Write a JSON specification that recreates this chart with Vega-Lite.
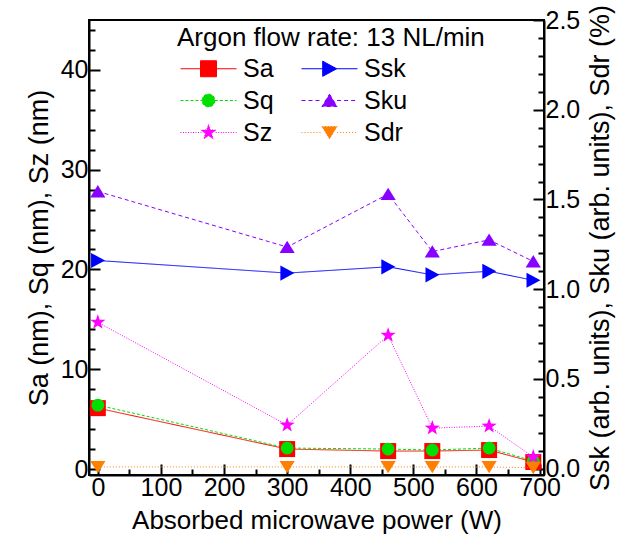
{
  "$schema": "https://vega.github.io/schema/vega-lite/v6.json",
  "width": 455,
  "height": 455,
  "autosize": "none",
  "padding": {"left": 89, "top": 20, "right": 83, "bottom": 67},
  "background": "white",
  "data": {
    "values": [
      {"power": 0, "series": "Sa", "side": "L", "value": 6.1},
      {"power": 300, "series": "Sa", "side": "L", "value": 2.0},
      {"power": 460, "series": "Sa", "side": "L", "value": 1.8},
      {"power": 530, "series": "Sa", "side": "L", "value": 1.8},
      {"power": 620, "series": "Sa", "side": "L", "value": 1.9},
      {"power": 690, "series": "Sa", "side": "L", "value": 0.7},
      {"power": 0, "series": "Sq", "side": "L", "value": 6.4},
      {"power": 300, "series": "Sq", "side": "L", "value": 2.1},
      {"power": 460, "series": "Sq", "side": "L", "value": 2.0},
      {"power": 530, "series": "Sq", "side": "L", "value": 1.9},
      {"power": 620, "series": "Sq", "side": "L", "value": 2.1},
      {"power": 690, "series": "Sq", "side": "L", "value": 0.8},
      {"power": 0, "series": "Sz", "side": "L", "value": 14.7},
      {"power": 300, "series": "Sz", "side": "L", "value": 4.4},
      {"power": 460, "series": "Sz", "side": "L", "value": 13.4},
      {"power": 530, "series": "Sz", "side": "L", "value": 4.1},
      {"power": 620, "series": "Sz", "side": "L", "value": 4.3},
      {"power": 690, "series": "Sz", "side": "L", "value": 1.2},
      {"power": 0, "series": "Ssk", "side": "R", "value": 1.16},
      {"power": 300, "series": "Ssk", "side": "R", "value": 1.09},
      {"power": 460, "series": "Ssk", "side": "R", "value": 1.125},
      {"power": 530, "series": "Ssk", "side": "R", "value": 1.08},
      {"power": 620, "series": "Ssk", "side": "R", "value": 1.1},
      {"power": 690, "series": "Ssk", "side": "R", "value": 1.05},
      {"power": 0, "series": "Sku", "side": "R", "value": 1.545},
      {"power": 300, "series": "Sku", "side": "R", "value": 1.235},
      {"power": 460, "series": "Sku", "side": "R", "value": 1.53},
      {"power": 530, "series": "Sku", "side": "R", "value": 1.21},
      {"power": 620, "series": "Sku", "side": "R", "value": 1.275},
      {"power": 690, "series": "Sku", "side": "R", "value": 1.155},
      {"power": 0, "series": "Sdr", "side": "R", "value": 0.01},
      {"power": 300, "series": "Sdr", "side": "R", "value": 0.01},
      {"power": 460, "series": "Sdr", "side": "R", "value": 0.01},
      {"power": 530, "series": "Sdr", "side": "R", "value": 0.01},
      {"power": 620, "series": "Sdr", "side": "R", "value": 0.01},
      {"power": 690, "series": "Sdr", "side": "R", "value": 0.005}
    ]
  },
  "encoding": {
    "x": {
      "field": "power", "type": "quantitative",
      "scale": {"domain": [-14, 707], "nice": false, "zero": false},
      "axis": {
        "title": "Absorbed microwave power (W)",
        "titleFontSize": 26,
        "values": [0, 50, 100, 150, 200, 250, 300, 350, 400, 450, 500, 550, 600, 650, 700],
        "labelExpr": "datum.value % 100 === 0 ? datum.label : ''",
        "tickSize": {"condition": {"test": "datum.value % 100 === 0", "value": -11}, "value": -6},
        "labelPadding": 11,
        "titlePadding": 7
      }
    },
    "color": {
      "field": "series", "type": "nominal",
      "scale": {
        "domain": ["Sa", "Sq", "Sz", "Ssk", "Sku", "Sdr"],
        "range": ["#FF0000", "#00E000", "#FF00FF", "#0000FF", "#8800FF", "#FF7F00"]
      },
      "legend": {
        "orient": "none",
        "legendX": 88,
        "legendY": 5,
        "columns": 2,
        "direction": "vertical",
        "title": "Argon flow rate: 13 NL/min",
        "titleLimit": 500,
        "titleFont": "Liberation Sans",
        "titleFontSize": 26,
        "titleFontWeight": "normal",
        "titleColor": "black",
        "titlePadding": 5,
        "labelFont": "Liberation Sans",
        "labelFontSize": 25,
        "labelColor": "black",
        "labelLimit": 200,
        "symbolSize": 256,
        "symbolStrokeWidth": 1,
        "symbolOffset": 19,
        "labelOffset": 22,
        "rowPadding": 6,
        "columnPadding": 24,
        "padding": 0,
        "encode": {
          "symbols": {
            "update": {
              "shape": {"signal": "datum.value === 'Sa' ? 'M-3.5,0H-1M1,0H3.5M-1,-1H1V1H-1Z' : datum.value === 'Sq' ? 'M-3.5,0H-0.8M0.8,0H3.5M0.8,0A0.8,0.8,0,1,1,-0.8,0A0.8,0.8,0,1,1,0.8,0Z' : datum.value === 'Sz' ? 'M-3.5,0H-0.9M0.9,0H3.5M0,-1L0.235,-0.324L0.951,-0.309L0.38,0.124L0.588,0.809L0,0.4L-0.588,0.809L-0.38,0.124L-0.951,-0.309L-0.235,-0.324Z' : datum.value === 'Ssk' ? 'M-3.5,0H-0.85M0.85,0H3.5M-0.85,-0.95L0.9,0L-0.85,0.95Z' : datum.value === 'Sku' ? 'M-3.5,0H-0.95M0.95,0H3.5M0,-0.8L0.95,0.75L-0.95,0.75Z' : 'M-3.5,0H-0.95M0.95,0H3.5M-0.95,-0.75L0.95,-0.75L0,0.8Z'"},
              "strokeDash": {"signal": "datum.value === 'Sq' ? [3, 2] : datum.value === 'Sku' ? [4, 3] : datum.value === 'Sz' ? [1, 1.5] : datum.value === 'Sdr' ? [1, 2] : []"},
              "fill": {"scale": "color", "field": "value"},
              "stroke": {"scale": "color", "field": "value"},
              "strokeWidth": {"value": 1},
              "opacity": {"value": 1}
            }
          }
        }
      }
    }
  },
  "layer": [
    {
      "transform": [{"filter": "datum.side === 'L'"}],
      "encoding": {
        "y": {
          "field": "value", "type": "quantitative",
          "scale": {"domain": [-0.6, 45], "nice": false, "zero": false},
          "axis": {
            "title": "Sa (nm), Sq (nm), Sz (nm)",
            "values": [0, 2, 4, 6, 8, 10, 12, 14, 16, 18, 20, 22, 24, 26, 28, 30, 32, 34, 36, 38, 40, 42, 44],
            "labelExpr": "datum.value % 10 === 0 ? datum.label : ''",
            "tickSize": {"condition": {"test": "datum.value % 10 === 0", "value": -11}, "value": -6},
            "labelPadding": 12,
            "titlePadding": 7
          }
        }
      },
      "layer": [
        {
          "mark": {"type": "line", "strokeWidth": 1},
          "encoding": {
            "strokeDash": {
              "field": "series", "type": "nominal",
              "scale": {"domain": ["Sa", "Sq", "Sz"], "range": [[1, 0], [3, 2], [1, 1.5]]},
              "legend": null
            }
          }
        },
        {
          "mark": {"type": "point", "filled": true, "size": 256, "opacity": 1, "strokeWidth": 0.5},
          "encoding": {
            "shape": {
              "field": "series", "type": "nominal",
              "scale": {
                "domain": ["Sa", "Sq", "Sz"],
                "range": ["M-1,-1H1V1H-1Z", "M0.8,0A0.8,0.8,0,1,1,-0.8,0A0.8,0.8,0,1,1,0.8,0Z", "M0,-1L0.235,-0.324L0.951,-0.309L0.38,0.124L0.588,0.809L0,0.4L-0.588,0.809L-0.38,0.124L-0.951,-0.309L-0.235,-0.324Z"]
              },
              "legend": null
            }
          }
        }
      ]
    },
    {
      "transform": [{"filter": "datum.side === 'R'"}],
      "encoding": {
        "y": {
          "field": "value", "type": "quantitative",
          "scale": {"domain": [-0.035, 2.5], "nice": false, "zero": false},
          "axis": {
            "orient": "right",
            "title": "Ssk (arb. units), Sku (arb. units), Sdr (%)",
            "titleAngle": 270,
            "titleBaseline": "top",
            "values": [0, 0.1, 0.2, 0.3, 0.4, 0.5, 0.6, 0.7, 0.8, 0.9, 1.0, 1.1, 1.2, 1.3, 1.4, 1.5, 1.6, 1.7, 1.8, 1.9, 2.0, 2.1, 2.2, 2.3, 2.4, 2.5],
            "labelExpr": "abs(datum.value * 2 - round(datum.value * 2)) < 0.001 ? format(datum.value, '.1f') : ''",
            "tickSize": {"condition": {"test": "abs(datum.value * 2 - round(datum.value * 2)) < 0.001", "value": -11}, "value": -6},
            "labelPadding": 12,
            "titlePadding": 8
          }
        }
      },
      "layer": [
        {
          "mark": {"type": "line", "strokeWidth": 1},
          "encoding": {
            "strokeDash": {
              "field": "series", "type": "nominal",
              "scale": {"domain": ["Ssk", "Sku", "Sdr"], "range": [[1, 0], [4, 3], [1, 2]]},
              "legend": null
            }
          }
        },
        {
          "mark": {"type": "point", "filled": true, "size": 256, "opacity": 1, "strokeWidth": 0.5},
          "encoding": {
            "shape": {
              "field": "series", "type": "nominal",
              "scale": {
                "domain": ["Ssk", "Sku", "Sdr"],
                "range": ["M-0.85,-0.95L0.9,0L-0.85,0.95Z", "M0,-0.8L0.95,0.75L-0.95,0.75Z", "M-0.95,-0.75L0.95,-0.75L0,0.8Z"]
              },
              "legend": null
            }
          }
        }
      ]
    }
  ],
  "resolve": {
    "scale": {"y": "independent", "shape": "independent", "strokeDash": "independent"},
    "axis": {"y": "independent"}
  },
  "config": {
    "view": {"stroke": "black", "strokeWidth": 2},
    "font": "Liberation Sans",
    "axis": {
      "grid": false,
      "domainColor": "black",
      "domainWidth": 2,
      "tickColor": "black",
      "tickWidth": 2,
      "labelFont": "Liberation Sans",
      "labelFontSize": 25,
      "labelColor": "black",
      "titleFont": "Liberation Sans",
      "titleFontSize": 27,
      "titleFontWeight": "normal",
      "titleColor": "black"
    }
  }
}
